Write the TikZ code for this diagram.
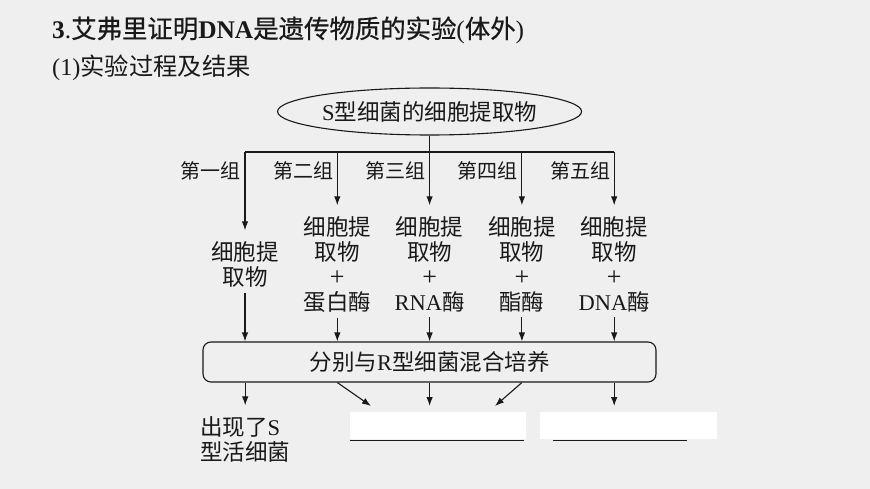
\documentclass[tikz,border=0pt]{standalone}
\usepackage{fontspec}
\setmainfont{Liberation Serif}
\newfontfamily\cjk{Noto Sans CJK SC}
\newfontfamily\cjktitle[FakeBold=0.6]{Noto Sans CJK SC}
\usetikzlibrary{arrows.meta,shapes.geometric}
\newcommand{\zh}[1]{{\cjk #1}}
\newcommand{\zht}[1]{{\cjktitle #1}}
\newcommand{\plusmark}{{\fontsize{26}{25}\selectfont +}}
\definecolor{bgc}{RGB}{239,239,239}
\definecolor{ink}{RGB}{25,25,25}
\begin{document}
\begin{tikzpicture}[x=1pt,y=-1pt,
  every node/.style={text=ink},
  arr/.style={draw=ink, line width=1.1pt, -{Latex[length=9pt,width=6.5pt]}},
  ln/.style={draw=ink, line width=1.1pt},
  gap/.style={shorten >=6pt},
  coltext/.style={align=center, font=\fontsize{22.5}{25}\selectfont, inner xsep=0pt, inner ysep=5pt, anchor=base},
  grp/.style={font=\fontsize{20}{22}\selectfont\cjk, anchor=east, inner sep=0pt},
  big/.style={font=\fontsize{22.5}{25}\selectfont}
]
\fill[bgc] (0,0) rectangle (870,489);
\useasboundingbox (0,0) rectangle (870,489);

% titles
\node[anchor=west, inner sep=0pt, font=\fontsize{25.4}{27}\selectfont] (title) at (52,30)
  {\textbf{3}.\zht{艾弗里证明}\textbf{DNA}\zht{是遗传物质的实验}(\zht{体外})};
\node[anchor=west, inner sep=0pt, font=\fontsize{24.3}{26}\selectfont] (sub) at (52,68)
  {(1)\zh{实验过程及结果}};

% top ellipse
\node[ellipse, draw=ink, line width=1.1pt, minimum width=256pt, minimum height=47pt, inner sep=0pt, big]
  (ell) at (429.6,111.5) {S\zh{型细菌的细胞提取物}};

% junctions
\coordinate (j1) at (245,152);
\coordinate (j2) at (337.3,152);
\coordinate (j3) at (429.6,152);
\coordinate (j4) at (521.9,152);
\coordinate (j5) at (614.2,152);

\draw[ln] (ell.south) -- (j3);
\draw[ln] (j1) -- (j5);

% group labels
\node[grp] (g1) at (241,171) {第一组};
\node[grp] (g2) at (333.3,171) {第二组};
\node[grp] (g3) at (425.6,171) {第三组};
\node[grp] (g4) at (517.9,171) {第四组};
\node[grp] (g5) at (610.2,171) {第五组};

% column texts (base = baseline of the last line)
\node[coltext] (c1) at (245,285.5) {\zh{细胞提}\\\zh{取物}};
\node[coltext] (c2) at (337.3,310.5) {\zh{细胞提}\\\zh{取物}\\\plusmark\\\zh{蛋白酶}};
\node[coltext] (c3) at (429.6,310.5) {\zh{细胞提}\\\zh{取物}\\\plusmark\\RNA\zh{酶}};
\node[coltext] (c4) at (521.9,310.5) {\zh{细胞提}\\\zh{取物}\\\plusmark\\\zh{酯酶}};
\node[coltext] (c5) at (614.2,310.5) {\zh{细胞提}\\\zh{取物}\\\plusmark\\DNA\zh{酶}};

\foreach \i in {1,...,5} { \draw[arr,gap] (j\i) -- (c\i.north); }

% mixing box
\node[draw=ink, line width=1.1pt, rounded corners=8pt, minimum width=453pt, minimum height=40pt, inner sep=0pt, big]
  (box) at (429.5,362) {\zh{分别与}R\zh{型细菌混合培养}};

\foreach \i in {1,...,5} { \draw[arr] (c\i.south) -- (c\i.south |- box.north); }

% results
\node[align=left, anchor=base west, inner xsep=0pt, inner ysep=5pt, big] (res1) at (200,460.5)
  {\zh{出现了}S\\\zh{型活细菌}};
\node[fill=white, minimum width=176pt, minimum height=27pt, inner sep=0pt] (ans1) at (438,425.5) {};
\node[fill=white, minimum width=177pt, minimum height=27pt, inner sep=0pt] (ans2) at (628.5,425.5) {};
\draw[ln] (ans1.south west) ++(0,1) -- ++(174,0);
\draw[ln] (ans2.south west) ++(13,1) -- ++(134,0);

\coordinate (t1) at (371,406);
\coordinate (t2) at (429.6,406);
\coordinate (t3) at (495,406);
\coordinate (t4) at (614.2,406);

\draw[arr,gap] (box.south -| res1.north) -- (res1.north);
\draw[arr] (box.south -| j2) -- (t1);
\draw[arr] (box.south -| j3) -- (t2);
\draw[arr] (box.south -| j4) -- (t3);
\draw[arr] (box.south -| j5) -- (t4);
\end{tikzpicture}
\end{document}
